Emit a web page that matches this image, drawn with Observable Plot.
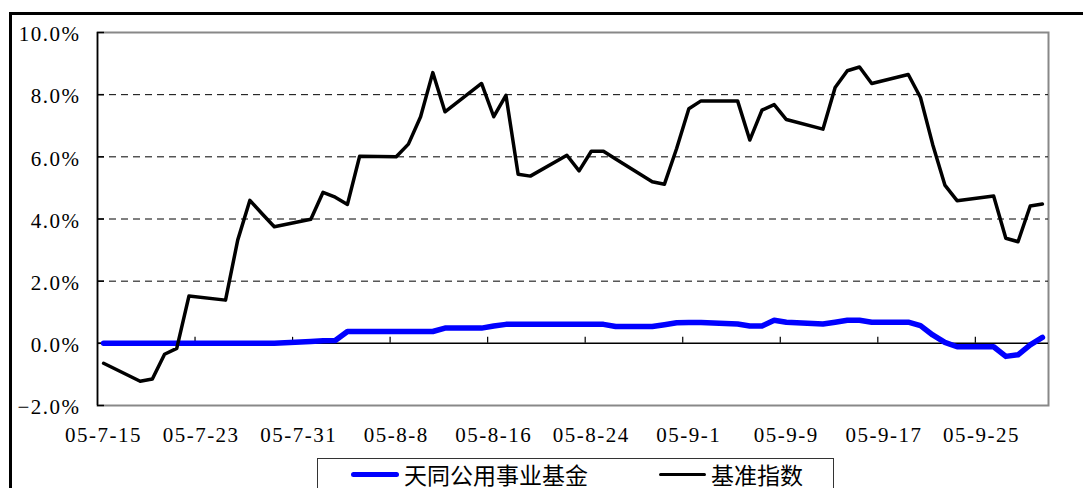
<!DOCTYPE html>
<html><head><meta charset="utf-8">
<script src="https://cdn.jsdelivr.net/npm/d3@7"></script>
<script src="https://cdn.jsdelivr.net/npm/@observablehq/plot@0.6"></script>
<style>
body{margin:0;background:#fff;width:1083px;height:488px;overflow:hidden;position:relative;}
#chart{position:absolute;left:0;top:0;}
#chart svg text{font-family:"Liberation Serif",serif !important;font-size:21px !important;letter-spacing:1.5px;fill:#000;}
#frame{position:absolute;left:9px;top:12px;width:1200px;height:600px;border-left:3px solid #000;border-top:3px solid #000;pointer-events:none;}
#legend{position:absolute;left:317px;top:458px;width:515px;height:60px;border:1px solid #333;background:#fff;font-family:"Noto Sans CJK SC",sans-serif;font-size:23px;color:#000;}
#legend .sw{position:absolute;height:0;border-radius:3px;}
#legend .tx{position:absolute;top:0px;line-height:30px;white-space:nowrap;}
</style>
</head><body>
<div id="chart"></div>
<div id="frame"></div>
<div id="legend"></div>
<script>
const dates = [
"2005-07-15","2005-07-18","2005-07-19","2005-07-20","2005-07-21","2005-07-22",
"2005-07-25","2005-07-26","2005-07-27","2005-07-28","2005-07-29",
"2005-08-01","2005-08-02","2005-08-03","2005-08-04","2005-08-05",
"2005-08-08","2005-08-09","2005-08-10","2005-08-11","2005-08-12",
"2005-08-15","2005-08-16","2005-08-17","2005-08-18","2005-08-19",
"2005-08-22","2005-08-23","2005-08-24","2005-08-25","2005-08-26",
"2005-08-29","2005-08-30","2005-08-31","2005-09-01","2005-09-02",
"2005-09-05","2005-09-06","2005-09-07","2005-09-08","2005-09-09",
"2005-09-12","2005-09-13","2005-09-14","2005-09-15","2005-09-16",
"2005-09-19","2005-09-20","2005-09-21","2005-09-22","2005-09-23",
"2005-09-26","2005-09-27","2005-09-28","2005-09-29","2005-09-30"];
const fund = [
0,0,0,0,0,0,
0,0,0,0,0,
0.06,0.08,0.09,0.38,0.38,
0.38,0.38,0.38,0.38,0.49,
0.49,0.56,0.61,0.61,0.61,
0.61,0.61,0.61,0.61,0.54,
0.54,0.60,0.66,0.67,0.67,
0.62,0.56,0.56,0.74,0.68,
0.62,0.68,0.74,0.74,0.68,
0.68,0.57,0.27,0.03,-0.11,
-0.11,-0.42,-0.37,-0.05,0.19];
const bench = [
-0.64,-1.22,-1.15,-0.35,-0.16,1.52,
1.39,3.32,4.60,4.17,3.75,
3.99,4.86,4.70,4.47,6.02,
6.00,6.41,7.29,8.71,7.45,
8.36,7.29,7.98,5.44,5.38,
6.05,5.55,6.18,6.18,5.93,
5.20,5.12,6.27,7.55,7.80,
7.80,6.54,7.50,7.68,7.20,
6.89,8.23,8.77,8.89,8.36,
8.65,7.91,6.40,5.09,4.59,
4.74,3.38,3.27,4.42,4.48];
const tickDates = ["2005-07-15","2005-07-23","2005-07-31","2005-08-08","2005-08-16","2005-08-24","2005-09-01","2005-09-09","2005-09-17","2005-09-25"];
const tickLabels = ["05-7-15","05-7-23","05-7-31","05-8-8","05-8-16","05-8-24","05-9-1","05-9-9","05-9-17","05-9-25"];
const yTicks = [-2,0,2,4,6,8,10];
const gridVals = [2,4,6,8];
const seriesNames = ["天同公用事业基金","基准指数"];
const seriesColors = ["#0000ff","#000000"];

const noon = s => new Date(s + "T12:00:00Z");
const midnight = s => new Date(s + "T00:00:00Z");
const xStart = midnight("2005-07-15"), xEnd = midnight("2005-10-01");
const rows = dates.map((d,i)=>({date: noon(d), fund: fund[i], bench: bench[i]}));
const labelMap = new Map(tickDates.map((d,i)=>[+noon(d), tickLabels[i]]));

const chart = Plot.plot({
  width:1083, height:450,
  marginLeft:97, marginRight:35, marginTop:32, marginBottom:45,
  x:{type:"utc", domain:[xStart,xEnd]},
  y:{domain:[-2,10]},
  style:{background:"transparent"},
  marks:[
    Plot.frame({stroke:"#888", strokeWidth:2}),
    Plot.ruleY(gridVals, {stroke:"#000", strokeWidth:1, strokeDasharray:"7,5"}),
    Plot.ruleY([0], {stroke:"#000", strokeWidth:1.5}),
    Plot.ruleX([xStart], {stroke:"#000", strokeWidth:1.5}),
    Plot.ruleX(tickDates.slice(1).map(midnight), {x:d=>d, y1:0, y2:0, insetTop:-6, stroke:"#000", strokeWidth:1.2}),
    Plot.ruleY(yTicks, {y:d=>d, x1:xStart, x2:xStart, insetRight:-7, stroke:"#000", strokeWidth:1.5}),
    Plot.axisY({ticks:yTicks, tickSize:0, tickPadding:17, dy:2, label:null,
      tickFormat:d=>(d<0?"\u2212":"")+Math.abs(d).toFixed(1)+"%"}),
    Plot.axisX({ticks:tickDates.map(noon), tickSize:0, tickPadding:22, label:null,
      tickFormat:d=>labelMap.get(+d)}),
    Plot.line(rows,{x:"date", y:"fund", stroke:seriesColors[0], strokeWidth:5.5, strokeLinejoin:"round", strokeLinecap:"round"}),
    Plot.line(rows,{x:"date", y:"bench", stroke:seriesColors[1], strokeWidth:3.5, strokeLinejoin:"round"})
  ]
});
document.getElementById("chart").appendChild(chart);

const lg = document.getElementById("legend");
const swX = [33, 341], txX = [86, 393], swW = [48, 47], swH = [5.5, 3.5];
seriesNames.forEach((n,i)=>{
  const s = document.createElement("div");
  s.className="sw";
  s.style.left = swX[i]+"px"; s.style.width = swW[i]+"px";
  s.style.top = (16 - swH[i]/2)+"px";
  s.style.borderTop = swH[i]+"px solid "+seriesColors[i];
  lg.appendChild(s);
  const t = document.createElement("div");
  t.className="tx"; t.style.left = txX[i]+"px"; t.textContent = n;
  lg.appendChild(t);
});
</script>
</body></html>
